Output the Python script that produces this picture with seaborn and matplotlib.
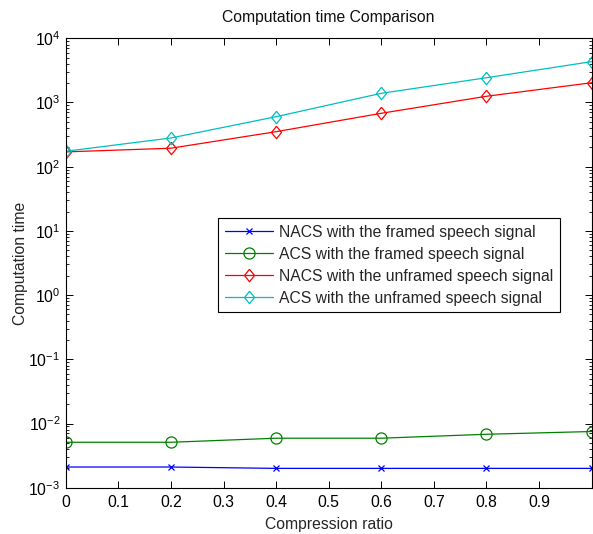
import numpy as np
import pandas as pd
import matplotlib
matplotlib.use("Agg")
import matplotlib.pyplot as plt
from matplotlib.ticker import LogLocator, FixedLocator, NullFormatter
import seaborn as sns

# ---- data ----
ratio = [0.0, 0.2, 0.4, 0.6, 0.8, 1.0]
nacs_framed = [0.0021, 0.0021, 0.0020, 0.0020, 0.0020, 0.0020]
acs_framed = [0.0051, 0.0051, 0.0059, 0.0059, 0.0068, 0.0075]
nacs_unframed = [170, 194, 351, 679, 1250, 2030]
acs_unframed = [174, 280, 601, 1390, 2430, 4330]

labels = ["NACS with the framed speech signal",
          "ACS with the framed speech signal",
          "NACS with the unframed speech signal",
          "ACS with the unframed speech signal"]
xtick_vals = [0, 0.1, 0.2, 0.3, 0.4, 0.5, 0.6, 0.7, 0.8, 0.9]
xtick_labels = ["0", "0.1", "0.2", "0.3", "0.4", "0.5", "0.6", "0.7", "0.8", "0.9"]

sns.set_theme(style="white")
plt.rcParams['font.family'] = ['Liberation Sans', 'DejaVu Sans']
plt.rcParams['mathtext.default'] = 'regular'

FS = 11.3
fig = plt.figure(figsize=(5.93, 5.34), dpi=100)
ax = fig.add_axes([0.1108, 0.0867, 0.8870, 0.8416])

diamond = [(0, 1), (0.8, 0), (0, -1), (-0.8, 0), (0, 1)]
series = [
    (nacs_framed, labels[0], (0, 0, 1), "x", 4.5),
    (acs_framed, labels[1], (0, 0.5, 0), "o", 8),
    (nacs_unframed, labels[2], (1, 0, 0), diamond, 9),
    (acs_unframed, labels[3], (0, 0.75, 0.75), diamond, 9),
]
for vals, lab, col, mk, ms in series:
    df = pd.DataFrame({"ratio": ratio, "time": vals})
    sns.lineplot(data=df, x="ratio", y="time", ax=ax, color=col, label=lab,
                 marker=mk, markersize=ms, markerfacecolor="none",
                 markeredgecolor=col, markeredgewidth=0.9, linewidth=0.9)

ax.set_yscale("log")
ax.set_ylim(1e-3, 1e4)
ax.set_xlim(0, 1.0)
ax.yaxis.set_major_locator(LogLocator(base=10, numticks=20))
ax.yaxis.set_minor_locator(LogLocator(base=10, subs=np.arange(2, 10), numticks=20))
ax.yaxis.set_minor_formatter(NullFormatter())
ax.xaxis.set_major_locator(FixedLocator(xtick_vals))
ax.set_xticklabels(xtick_labels)

for s in ax.spines.values():
    s.set_visible(True)
    s.set_color("black")
    s.set_linewidth(0.8)

ax.tick_params(which="both", direction="in", top=True, right=True,
               left=True, bottom=True, colors="black", labelsize=FS)
ax.tick_params(which="major", length=5, width=0.7)
ax.tick_params(which="minor", length=2.5, width=0.6)
ax.tick_params(axis="x", pad=5)
ax.tick_params(axis="y", pad=4)
ax.grid(False)

ax.set_title("Computation time Comparison", fontsize=FS, pad=12, color="#111111")
ax.set_xlabel("Compression ratio", fontsize=FS, labelpad=5)
ax.set_ylabel("Computation time", fontsize=FS)
ax.yaxis.set_label_coords(-0.072, 0.5)

leg = ax.legend(loc="upper left", bbox_to_anchor=(0.290, 0.5995),
                borderaxespad=0, fontsize=FS, frameon=True, fancybox=False,
                handlelength=3.1, handletextpad=0.4, labelspacing=0.45,
                borderpad=0.4, edgecolor="black", framealpha=1)
leg.get_frame().set_linewidth(0.8)

fig.savefig("out.png", dpi=100)
